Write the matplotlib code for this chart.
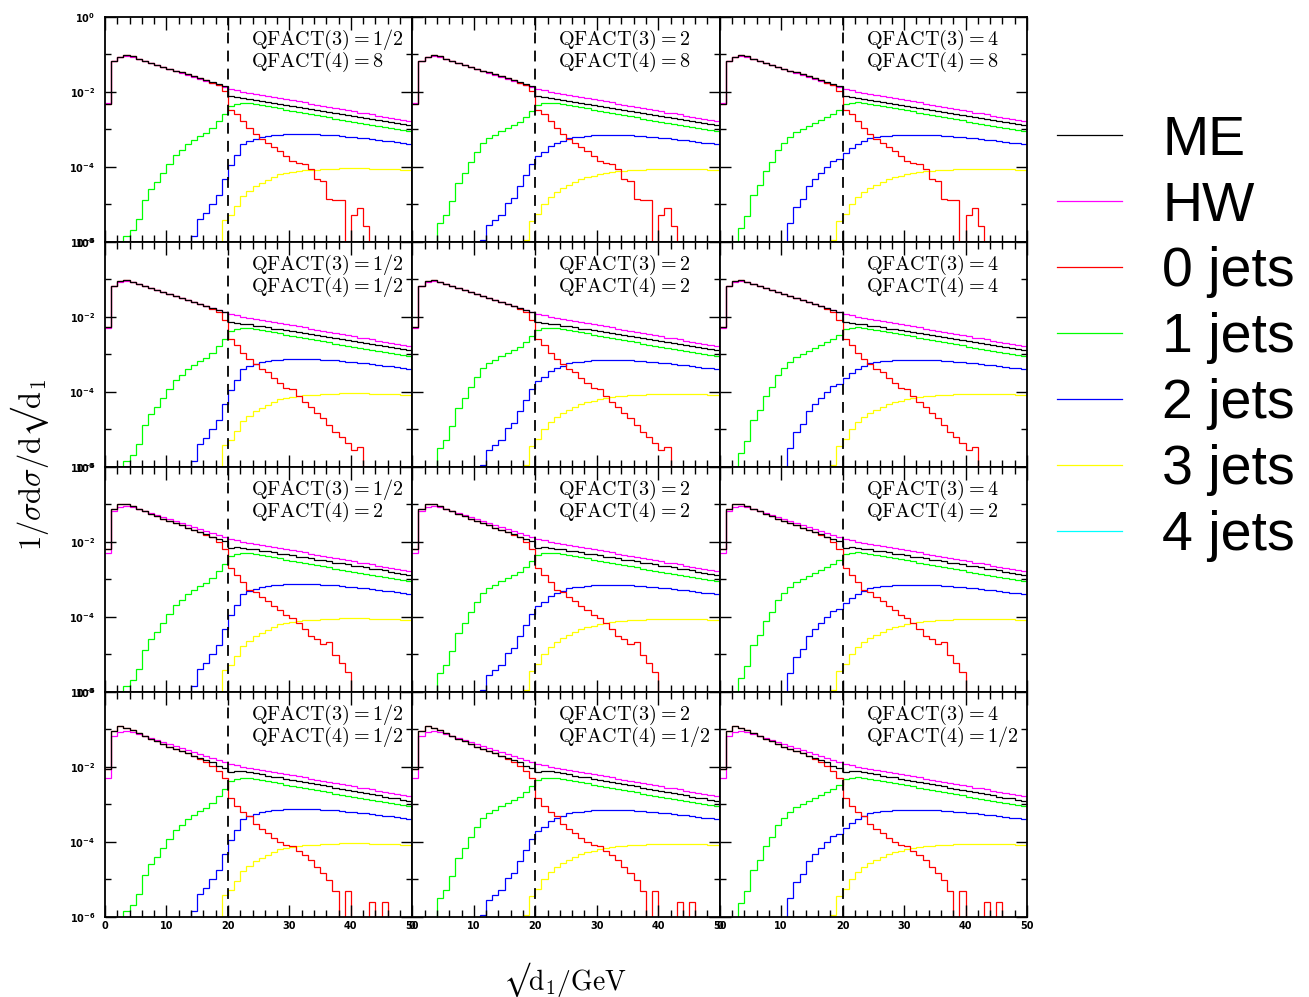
import numpy as np
import matplotlib.pyplot as plt
from matplotlib.lines import Line2D

# bins of sqrt(d1) in GeV, width 1
bin_edges = np.arange(0, 51)

# panel labels: QFACT(3) per column, QFACT(4) per panel
q3_values = ['1/2', '2', '4']
q4_values = [['8', '8', '8'],
             ['1/2', '2', '4'],
             ['2', '2', '2'],
             ['1/2', '1/2', '1/2']]

series_names = ['ME', 'HW', '0 jets', '1 jets', '2 jets', '3 jets', '4 jets']
series_colors = ['black', '#ff00ff', '#ff0000', '#00ff00', '#0000ff', '#ffff00', '#00ffff']

xtick_vals = [0, 10, 20, 30, 40, 50]
xtick_labels = ['0', '10', '20', '30', '40', '50']
ytick_vals = [1, 1e-2, 1e-4, 1e-6]
ytick_labels = [r'$\mathbf{10^{0}}$', r'$\mathbf{10^{-2}}$', r'$\mathbf{10^{-4}}$', r'$\mathbf{10^{-6}}$']

# values, stored as log10; None = empty bin
hw = [-2.30, -1.17, -1.07, -1.03, -1.06, -1.12, -1.17, -1.23, -1.28, -1.33,
      -1.39, -1.44, -1.49, -1.55, -1.60, -1.65, -1.71, -1.76, -1.81, -1.86,
      -1.93, -1.96, -1.99, -2.02, -2.05, -2.08, -2.11, -2.14, -2.17, -2.20,
      -2.22, -2.25, -2.28, -2.31, -2.34, -2.37, -2.40, -2.43, -2.46, -2.49,
      -2.52, -2.55, -2.57, -2.60, -2.63, -2.66, -2.69, -2.72, -2.75, -2.78]

# ME, one per row (QFACT(4))
me_row1 = [-2.32, -1.18, -1.07, -1.02, -1.05, -1.11, -1.17, -1.22, -1.27, -1.33,
           -1.38, -1.43, -1.48, -1.53, -1.58, -1.63, -1.68, -1.73, -1.78, -1.84,
           -2.12, -2.14, -2.17, -2.20, -2.22, -2.25, -2.27, -2.30, -2.33, -2.35,
           -2.38, -2.40, -2.43, -2.46, -2.48, -2.51, -2.53, -2.56, -2.59, -2.61,
           -2.64, -2.66, -2.69, -2.72, -2.74, -2.77, -2.79, -2.82, -2.85, -2.87]
me_row2 = [-2.28, -1.17, -1.04, -1.01, -1.06, -1.11, -1.17, -1.22, -1.28, -1.33,
           -1.38, -1.44, -1.49, -1.54, -1.60, -1.65, -1.70, -1.76, -1.81, -1.88,
           -2.13, -2.15, -2.18, -2.20, -2.23, -2.25, -2.28, -2.31, -2.33, -2.36,
           -2.38, -2.41, -2.43, -2.46, -2.49, -2.51, -2.54, -2.56, -2.59, -2.61,
           -2.64, -2.67, -2.69, -2.72, -2.74, -2.77, -2.79, -2.82, -2.85, -2.88]
me_row3 = [-2.20, -1.13, -1.00, -1.00, -1.05, -1.12, -1.18, -1.25, -1.32, -1.38,
           -1.44, -1.50, -1.56, -1.62, -1.68, -1.74, -1.80, -1.86, -1.92, -1.97,
           -2.15, -2.13, -2.15, -2.18, -2.20, -2.23, -2.25, -2.28, -2.31, -2.33,
           -2.36, -2.39, -2.41, -2.44, -2.47, -2.49, -2.52, -2.55, -2.57, -2.60,
           -2.63, -2.65, -2.68, -2.71, -2.73, -2.76, -2.79, -2.82, -2.85, -2.88]
me_row4 = [-2.06, -1.03, -0.92, -0.95, -1.01, -1.10, -1.17, -1.25, -1.32, -1.39,
           -1.46, -1.52, -1.57, -1.64, -1.70, -1.75, -1.81, -1.88, -1.97, -2.04,
           -2.14, -2.10, -2.11, -2.14, -2.17, -2.20, -2.23, -2.26, -2.28, -2.31,
           -2.34, -2.37, -2.40, -2.43, -2.46, -2.49, -2.52, -2.55, -2.58, -2.61,
           -2.64, -2.67, -2.70, -2.73, -2.76, -2.79, -2.82, -2.84, -2.87, -2.90]

# 0 jets, one per row
jet0_row1 = [-2.32, -1.18, -1.07, -1.02, -1.05, -1.11, -1.17, -1.22, -1.27, -1.33,
             -1.38, -1.43, -1.48, -1.53, -1.58, -1.63, -1.69, -1.75, -1.82, -1.98,
             -2.47, -2.60, -2.77, -2.95, -3.12, -3.25, -3.36, -3.48, -3.58, -3.70,
             -3.84, -3.90, -3.92, -4.05, -4.33, -4.38, -4.85, -4.87, -4.87, None,
             -5.27, -5.10, -5.58, None, None, None, None, None, None, None]
jet0_row2 = [-2.28, -1.17, -1.04, -1.01, -1.06, -1.11, -1.17, -1.22, -1.28, -1.33,
             -1.38, -1.44, -1.49, -1.54, -1.60, -1.65, -1.70, -1.78, -1.87, -2.08,
             -2.60, -2.75, -2.97, -3.13, -3.25, -3.40, -3.48, -3.62, -3.77, -3.90,
             -3.93, -4.10, -4.26, -4.39, -4.57, -4.70, -4.88, -5.06, -5.21, -5.37,
             -5.56, -5.48, None, None, None, None, None, None, None, None]
jet0_row3 = [-2.20, -1.13, -1.00, -1.00, -1.05, -1.12, -1.18, -1.25, -1.32, -1.38,
             -1.44, -1.50, -1.56, -1.62, -1.68, -1.74, -1.81, -1.88, -2.00, -2.18,
             -2.69, -2.89, -3.07, -3.29, -3.33, -3.47, -3.58, -3.72, -3.82, -3.94,
             -4.04, -4.16, -4.31, -4.51, -4.58, -4.71, -4.67, -5.02, -5.24, -5.47,
             None, None, None, None, None, None, None, None, None, None]
jet0_row4 = [-2.06, -1.03, -0.92, -0.95, -1.01, -1.10, -1.17, -1.25, -1.32, -1.39,
             -1.46, -1.52, -1.57, -1.64, -1.72, -1.79, -1.87, -1.98, -2.12, -2.30,
             -2.84, -3.04, -3.19, -3.32, -3.52, -3.66, -3.77, -3.90, -3.99, -4.08,
             -4.12, -4.24, -4.35, -4.48, -4.66, -4.84, -5.01, -5.30, None, -5.30,
             None, None, None, -5.59, None, -5.59, None, None, None, None]

# 1 jets, one per column (QFACT(3))
jet1_col1 = [None, None, None, -5.85, -5.67, -5.40, -4.87, -4.60, -4.41, -4.16,
             -3.91, -3.67, -3.54, -3.40, -3.29, -3.18, -3.09, -2.96, -2.78, -2.58,
             -2.38, -2.31, -2.29, -2.30, -2.32, -2.35, -2.38, -2.41, -2.44, -2.47,
             -2.50, -2.53, -2.56, -2.59, -2.62, -2.65, -2.68, -2.71, -2.74, -2.77,
             -2.80, -2.83, -2.86, -2.88, -2.91, -2.94, -2.96, -2.99, -3.02, -3.05]
jet1_col2 = [None, None, None, None, -5.50, -5.28, -4.92, -4.42, -4.17, -3.86,
             -3.59, -3.37, -3.23, -3.14, -3.05, -2.97, -2.88, -2.79, -2.68, -2.52,
             -2.35, -2.30, -2.29, -2.30, -2.32, -2.35, -2.38, -2.41, -2.44, -2.47,
             -2.50, -2.53, -2.56, -2.59, -2.62, -2.65, -2.68, -2.71, -2.74, -2.77,
             -2.80, -2.83, -2.86, -2.88, -2.91, -2.94, -2.96, -2.99, -3.02, -3.05]
jet1_col3 = [None, None, None, -5.64, -5.32, -4.75, -4.48, -4.12, -3.86, -3.55,
             -3.35, -3.19, -3.08, -2.99, -2.91, -2.83, -2.76, -2.68, -2.59, -2.48,
             -2.33, -2.29, -2.28, -2.29, -2.31, -2.34, -2.37, -2.40, -2.43, -2.46,
             -2.49, -2.52, -2.55, -2.58, -2.61, -2.64, -2.67, -2.70, -2.73, -2.76,
             -2.79, -2.82, -2.85, -2.88, -2.91, -2.94, -2.96, -2.99, -3.02, -3.05]

# 2 jets, one per column
jet2_col1 = [None] * 14 + [
    -5.85, -5.39, -5.22, -5.00, -4.74, -4.31,
    -3.96, -3.67, -3.40, -3.32, -3.25, -3.21, -3.18, -3.16, -3.14, -3.13,
    -3.12, -3.12, -3.12, -3.13, -3.13, -3.14, -3.15, -3.16, -3.18, -3.19,
    -3.21, -3.22, -3.24, -3.26, -3.28, -3.30, -3.32, -3.34, -3.36, -3.38]
jet2_col2 = [None] * 11 + [
    -5.95, -5.55, -5.41, -5.28, -4.97, -4.83, -4.52, -4.21, -3.92,
    -3.72, -3.59, -3.44, -3.35, -3.30, -3.24, -3.21, -3.19, -3.17, -3.16,
    -3.15, -3.15, -3.15, -3.15, -3.16, -3.16, -3.17, -3.18, -3.19, -3.20,
    -3.22, -3.23, -3.25, -3.27, -3.29, -3.31, -3.33, -3.35, -3.37, -3.39]
jet2_col3 = [None] * 11 + [
    -5.50, -5.06, -4.86, -4.52, -4.33, -4.17, -3.99, -3.83, -3.78,
    -3.64, -3.50, -3.39, -3.30, -3.24, -3.21, -3.18, -3.17, -3.16, -3.15,
    -3.15, -3.15, -3.15, -3.15, -3.16, -3.16, -3.17, -3.18, -3.19, -3.20,
    -3.22, -3.23, -3.25, -3.27, -3.29, -3.31, -3.33, -3.35, -3.37, -3.39]

# 3 jets, one per column
jet3_col1 = [None] * 19 + [
    -5.42,
    -5.27, -5.05, -4.78, -4.65, -4.52, -4.42, -4.35, -4.27, -4.20, -4.16,
    -4.13, -4.11, -4.09, -4.08, -4.07, -4.06, -4.05, -4.05, -4.04, -4.04,
    -4.04, -4.04, -4.04, -4.05, -4.05, -4.05, -4.06, -4.06, -4.07, -4.07]
jet3_col2 = [None] * 18 + [
    -5.95, -5.43,
    -5.25, -4.99, -4.81, -4.68, -4.57, -4.48, -4.39, -4.33, -4.28, -4.23,
    -4.19, -4.17, -4.14, -4.12, -4.11, -4.09, -4.08, -4.07, -4.06, -4.06,
    -4.05, -4.05, -4.05, -4.05, -4.05, -4.06, -4.06, -4.06, -4.07, -4.07]
jet3_col3 = [None] * 18 + [
    -5.95, -5.43,
    -5.25, -4.99, -4.81, -4.68, -4.57, -4.48, -4.39, -4.33, -4.28, -4.23,
    -4.19, -4.17, -4.14, -4.12, -4.11, -4.09, -4.08, -4.07, -4.06, -4.06,
    -4.05, -4.05, -4.05, -4.05, -4.05, -4.06, -4.06, -4.06, -4.07, -4.07]

me_rows = [me_row1, me_row2, me_row3, me_row4]
jet0_rows = [jet0_row1, jet0_row2, jet0_row3, jet0_row4]
jet1_cols = [jet1_col1, jet1_col2, jet1_col3]
jet2_cols = [jet2_col1, jet2_col2, jet2_col3]
jet3_cols = [jet3_col1, jet3_col2, jet3_col3]


def to_lin(logs):
    # empty bins become 0 so the step drops to the bottom of the log axis
    return np.array([0.0 if v is None else 10.0 ** v for v in logs])


fig, axes = plt.subplots(4, 3, figsize=(13.09, 9.97), dpi=100, sharex=True, sharey=True)
fig.subplots_adjust(left=0.0802, right=0.7846, bottom=0.0803, top=0.983, wspace=0, hspace=0)

lw = 0.9
for r in range(4):
    for c in range(3):
        ax = axes[r, c]
        ax.set_yscale('log')
        ax.stairs(to_lin(jet3_cols[c]), bin_edges, color=series_colors[5], lw=lw, baseline=None)
        ax.stairs(to_lin(jet2_cols[c]), bin_edges, color=series_colors[4], lw=lw, baseline=None)
        ax.stairs(to_lin(jet1_cols[c]), bin_edges, color=series_colors[3], lw=lw, baseline=None)
        ax.stairs(to_lin(hw), bin_edges, color=series_colors[1], lw=lw, baseline=None)
        ax.stairs(to_lin(jet0_rows[r]), bin_edges, color=series_colors[2], lw=lw, baseline=None)
        ax.stairs(to_lin(me_rows[r]), bin_edges, color=series_colors[0], lw=lw, baseline=None)

        ax.axvline(20, color='black', lw=1.3, ls=(0, (6, 4)))

        ax.set_xlim(0, 50)
        ax.set_ylim(1e-6, 1)
        ax.set_xticks(xtick_vals)
        ax.set_xticks(np.arange(0, 51, 2), minor=True)
        ax.set_xticklabels(xtick_labels, fontweight='bold')
        ax.set_yticks(ytick_vals)
        ax.set_yticks([1e-1, 1e-3, 1e-5], minor=True)
        ax.set_yticklabels(ytick_labels)
        ax.yaxis.set_minor_formatter(plt.NullFormatter())
        ax.tick_params(which='both', direction='in', top=True, right=True, width=1.0, labelsize=7)
        ax.tick_params(axis='x', which='major', length=9, pad=3)
        ax.tick_params(axis='x', which='minor', length=5)
        ax.tick_params(axis='y', which='major', length=8, pad=7)
        ax.tick_params(axis='y', which='minor', length=4)
        for s in ax.spines.values():
            s.set_linewidth(1.3)

        ax.text(0.475, 0.898, r'$\mathrm{QFACT(3)=' + q3_values[c] + '}$',
                transform=ax.transAxes, fontsize=14.5, math_fontfamily='cm', va='center')
        ax.text(0.475, 0.80, r'$\mathrm{QFACT(4)=' + q4_values[r][c] + '}$',
                transform=ax.transAxes, fontsize=14.5, math_fontfamily='cm', va='center')

fig.text(0.023, 0.534, r'$\mathrm{1/\sigma d\sigma/d√d_1}$', rotation=90,
         fontsize=22, math_fontfamily='cm', ha='center', va='center')
fig.text(0.4316, 0.017, r'$\mathrm{√d_1/GeV}$',
         fontsize=20, math_fontfamily='cm', ha='center', va='center')

handles = [Line2D([], [], color=col, lw=0.9) for col in series_colors]
fig.legend(handles, series_names, loc='upper left', bbox_to_anchor=(0.8075, 0.885),
           frameon=False, borderpad=0, borderaxespad=0,
           prop={'family': 'Liberation Sans', 'size': 40},
           handlelength=1.17, handletextpad=0.72, labelspacing=0.25)

fig.savefig('out.png', dpi=100)
